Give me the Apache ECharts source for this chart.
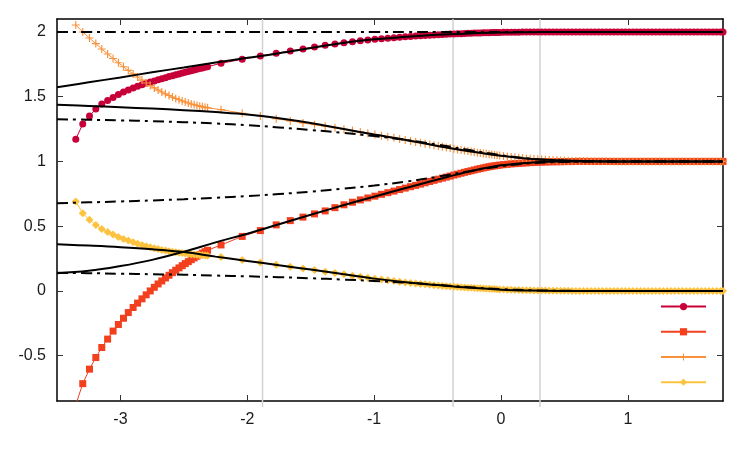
<!DOCTYPE html>
<html><head><meta charset="utf-8">
<script src="https://cdn.jsdelivr.net/npm/echarts@6/dist/echarts.min.js"></script>
<style>html,body{margin:0;padding:0;background:#fff}#c{width:750px;height:450px}</style>
</head><body><div id="c"></div>
<script>
const xTicks = [-3, -2, -1, 0, 1];
const yTicks = [-0.5, 0, 0.5, 1, 1.5, 2];

const sampleX = [
-3.352,-3.297,-3.244,-3.194,-3.147,-3.101,-3.058,-3.016,-2.976,-2.938,
-2.900,-2.865,-2.830,-2.797,-2.765,-2.733,-2.703,-2.674,-2.645,-2.617,
-2.590,-2.564,-2.538,-2.513,-2.489,-2.465,-2.442,-2.419,-2.397,-2.375,
-2.354,-2.333,-2.313,
-2.207,-2.040,-1.897,-1.772,-1.661,-1.561,-1.470,-1.386,-1.309,-1.238,
-1.171,-1.109,-1.050,-0.994,-0.942,-0.892,-0.844,-0.799,-0.755,-0.713,
-0.673,-0.635,-0.598,-0.562,-0.528,-0.494,-0.462,-0.431,-0.401,-0.371,
-0.343,-0.315,-0.288,-0.261,-0.236,-0.211,-0.186,-0.163,-0.139,-0.117,
-0.094,-0.073,-0.051,-0.031,-0.010,
0.02,0.05,0.08,0.11,0.14,0.17,0.20,0.23,0.26,0.29,
0.32,0.35,0.38,0.41,0.44,0.47,0.50,0.53,0.56,0.59,
0.62,0.65,0.68,0.71,0.74,0.77,0.80,0.83,0.86,0.89,
0.92,0.95,0.98,1.01,1.04,1.07,1.10,1.13,1.16,1.19,
1.22,1.25,1.28,1.31,1.34,1.37,1.40,1.43,1.46,1.49,
1.52,1.55,1.58,1.61,1.64,1.67,1.70,1.73,1.75];

const crimsonY = [
1.172,1.289,1.351,1.405,1.443,1.471,1.494,1.517,1.537,1.552,
1.568,1.581,1.593,1.603,1.613,1.621,1.630,1.638,1.647,1.655,
1.662,1.669,1.676,1.683,1.689,1.695,1.701,1.706,1.712,1.717,
1.722,1.727,1.732,
1.758,1.789,1.815,1.835,1.853,1.869,1.884,1.897,1.907,1.917,
1.925,1.933,1.938,1.943,1.948,1.952,1.956,1.959,1.962,1.965,
1.968,1.971,1.973,1.975,1.977,1.979,1.981,1.982,1.984,1.985,
1.986,1.987,1.988,1.989,1.990,1.991,1.992,1.992,1.993,1.994,
1.994,1.995,1.995,1.996,1.996,
1.997,1.997,1.998,1.998,1.998,1.999,1.999,1.999,1.999,2,
2,2,2,2,2,2,2,2,2,2,
2,2,2,2,2,2,2,2,2,2,
2,2,2,2,2,2,2,2,2,2,
2,2,2,2,2,2,2,2,2,2,
2,2,2,2,2,2,2,2,2];

const redY = [
-0.88,-0.716,-0.604,-0.514,-0.437,-0.372,-0.310,-0.259,-0.211,-0.167,
-0.128,-0.094,-0.061,-0.030,0.000,0.028,0.054,0.077,0.100,0.121,
0.141,0.160,0.178,0.195,0.211,0.226,0.241,0.255,0.268,0.280,
0.292,0.303,0.314,
0.355,0.421,0.466,0.510,0.543,0.570,0.595,0.618,0.643,0.665,
0.685,0.703,0.718,0.732,0.746,0.759,0.771,0.783,0.794,0.805,
0.815,0.825,0.835,0.845,0.854,0.863,0.871,0.879,0.887,0.895,
0.902,0.909,0.916,0.922,0.928,0.934,0.940,0.945,0.950,0.955,
0.959,0.963,0.966,0.969,0.972,
0.975,0.978,0.981,0.983,0.985,0.987,0.989,0.991,0.992,0.994,
0.995,0.996,0.997,0.997,0.998,0.998,0.999,0.999,0.999,1,
1,1,1,1,1,1,1,1,1,1,
1,1,1,1,1,1,1,1,1,1,
1,1,1,1,1,1,1,1,1,1,
1,1,1,1,1,1,1,1,1];

const orangeY = [
2.054,2.000,1.953,1.910,1.868,1.830,1.795,1.762,1.731,1.703,
1.676,1.652,1.628,1.606,1.586,1.568,1.551,1.536,1.522,1.509,
1.497,1.486,1.476,1.467,1.459,1.451,1.444,1.438,1.432,1.427,
1.422,1.418,1.414,
1.400,1.372,1.351,1.330,1.313,1.297,1.284,1.272,1.260,1.249,
1.238,1.228,1.218,1.208,1.199,1.190,1.182,1.174,1.166,1.158,
1.151,1.144,1.137,1.131,1.125,1.119,1.113,1.108,1.103,1.098,
1.093,1.088,1.084,1.080,1.076,1.072,1.068,1.065,1.062,1.059,
1.056,1.053,1.050,1.048,1.045,
1.042,1.038,1.035,1.032,1.029,1.026,1.023,1.021,1.019,1.017,
1.015,1.013,1.011,1.010,1.009,1.008,1.007,1.006,1.005,1.004,
1.004,1.003,1.003,1.002,1.002,1.002,1.001,1.001,1.001,1,
1,1,1,1,1,1,1,1,1,1,
1,1,1,1,1,1,1,1,1,1,
1,1,1,1,1,1,1,1,1];

const yellowY = [
0.690,0.600,0.549,0.510,0.479,0.456,0.435,0.417,0.402,0.389,
0.376,0.364,0.354,0.345,0.337,0.330,0.323,0.317,0.312,0.307,
0.303,0.299,0.295,0.292,0.289,0.286,0.284,0.282,0.280,0.278,
0.276,0.274,0.272,
0.262,0.238,0.219,0.202,0.187,0.174,0.161,0.149,0.138,0.128,
0.118,0.110,0.102,0.095,0.088,0.082,0.076,0.071,0.066,0.062,
0.058,0.054,0.051,0.047,0.044,0.042,0.039,0.037,0.035,0.033,
0.031,0.029,0.027,0.025,0.024,0.022,0.021,0.020,0.018,0.017,
0.016,0.015,0.014,0.013,0.012,
0.011,0.010,0.009,0.008,0.007,0.006,0.005,0.005,0.004,0.004,
0.003,0.003,0.002,0.002,0.002,0.001,0.001,0.001,0,0,
0,0,0,0,0,0,0,0,0,0,
0,0,0,0,0,0,0,0,0,0,
0,0,0,0,0,0,0,0,0,0,
0,0,0,0,0,0,0,0,0];

const refX = [-3.5,-3.25,-3.0,-2.75,-2.5,-2.25,-2.0,-1.75,-1.5,-1.25,-1.0,-0.75,-0.5,-0.25,0,0.25,0.5,0.75,1.0,1.25,1.5,1.75];
const solidTop    = [1.573,1.611,1.649,1.688,1.726,1.764,1.800,1.836,1.876,1.915,1.943,1.962,1.978,1.988,1.995,1.998,2,2,2,2,2,2];
const solidUpper  = [1.438,1.429,1.419,1.408,1.396,1.381,1.363,1.334,1.297,1.252,1.208,1.166,1.120,1.079,1.044,1.019,1.007,1.002,1,1,1,1];
const solidLow    = [0.360,0.350,0.338,0.322,0.300,0.265,0.232,0.198,0.165,0.130,0.095,0.067,0.045,0.025,0.010,0.003,0,0,0,0,0,0];
const solidRise   = [0.137,0.155,0.192,0.240,0.303,0.375,0.442,0.515,0.588,0.660,0.728,0.795,0.860,0.922,0.970,0.992,0.999,1,1,1,1,1];
const dashTop     = [2,2,2,2,2,2,2,2,2,2,2,2,2,2,2,2,2,2,2,2,2,2];
const dashUpper   = [1.326,1.322,1.317,1.311,1.303,1.293,1.280,1.263,1.243,1.221,1.196,1.166,1.130,1.088,1.048,1.020,1.007,1.002,1,1,1,1];
const dashMid     = [0.678,0.684,0.691,0.699,0.708,0.719,0.732,0.748,0.767,0.789,0.814,0.844,0.882,0.925,0.963,0.987,0.996,0.999,1,1,1,1];
const dashLow     = [0.140,0.137,0.133,0.129,0.125,0.119,0.113,0.106,0.098,0.088,0.077,0.064,0.047,0.029,0.014,0.005,0.001,0,0,0,0,0];

const guideX = [-1.88, -0.378, 0.307];
const yMin = -0.85, yMax = 2.1, xMin = -3.5, xMax = 1.75;

const font = '"Liberation Sans", Arial, Helvetica, sans-serif';
const zip = (xs, ys) => xs.map((x, i) => [x, ys[i]]);
const plusPath = 'path://M3,0H4V3H7V4H4V7H3V4H0V3H3Z';

const markerDefs = [
  {name: 's1', color: '#C70039', symbol: 'circle', size: 7, ys: crimsonY},
  {name: 's2', color: '#F2401F', symbol: 'rect', size: 7, ys: redY},
  {name: 's3', color: '#F9913A', symbol: plusPath, size: 8, ys: orangeY},
  {name: 's4', color: '#FDC23E', symbol: 'diamond', size: 8, ys: yellowY}
];

const series = [];
guideX.forEach(g => {
  series.push({type: 'line', data: [[g, -0.897], [g, yMax]], symbol: 'none', clip: false, silent: true, z: 1,
    lineStyle: {color: '#d2d2d2', width: 1.5}});
});
markerDefs.forEach(m => {
  series.push({name: m.name, type: 'line', data: zip(sampleX, m.ys), symbol: m.symbol, symbolSize: m.size,
    showAllSymbol: true, z: 2, itemStyle: {color: m.color}, lineStyle: {color: m.color, width: 1}});
});
[solidTop, solidUpper, solidLow, solidRise].forEach(ys => {
  series.push({type: 'line', data: zip(refX, ys), symbol: 'none', smooth: 0.4, z: 4, silent: true,
    lineStyle: {color: '#000', width: 2}});
});
[dashTop, dashUpper, dashMid, dashLow].forEach(ys => {
  series.push({type: 'line', data: zip(refX, ys), symbol: 'none', smooth: 0.4, z: 3, silent: true,
    lineStyle: {color: '#000', width: 2, type: [11, 5, 3, 5]}});
});

const axisLineStyle = {show: true, onZero: false, lineStyle: {color: '#000', width: 1.5}};
const tickStyle = (vals) => ({show: true, inside: true, length: 6, customValues: vals, lineStyle: {color: '#333', width: 1}});
const labelStyle = (vals) => ({show: true, customValues: vals, margin: 11, fontSize: 16, color: '#1a1a1a', fontFamily: font});

const option = {
  animation: false,
  backgroundColor: '#fff',
  grid: {left: 57, right: 27, top: 19, bottom: 49},
  legend: {
    data: markerDefs.map(m => m.name), orient: 'vertical', left: 660, top: 303, padding: 0,
    itemWidth: 45, itemHeight: 9, itemGap: 18, selectedMode: false,
    formatter: () => '', textStyle: {fontSize: 8, lineHeight: 9}
  },
  xAxis: [
    {type: 'value', min: xMin, max: xMax, position: 'bottom', axisLine: axisLineStyle,
      axisTick: tickStyle(xTicks), axisLabel: labelStyle(xTicks), splitLine: {show: false}},
    {type: 'value', min: xMin, max: xMax, position: 'top', axisLine: axisLineStyle,
      axisTick: tickStyle(xTicks), axisLabel: {show: false}, splitLine: {show: false}}
  ],
  yAxis: [
    {type: 'value', min: yMin, max: yMax, position: 'left', axisLine: axisLineStyle,
      axisTick: tickStyle(yTicks), axisLabel: labelStyle(yTicks), splitLine: {show: false}},
    {type: 'value', min: yMin, max: yMax, position: 'right', axisLine: axisLineStyle,
      axisTick: tickStyle(yTicks), axisLabel: {show: false}, splitLine: {show: false}}
  ],
  series: series
};
const chart = echarts.init(document.getElementById('c'), null, {renderer: 'canvas'});
chart.setOption(option);
</script>
</body></html>
